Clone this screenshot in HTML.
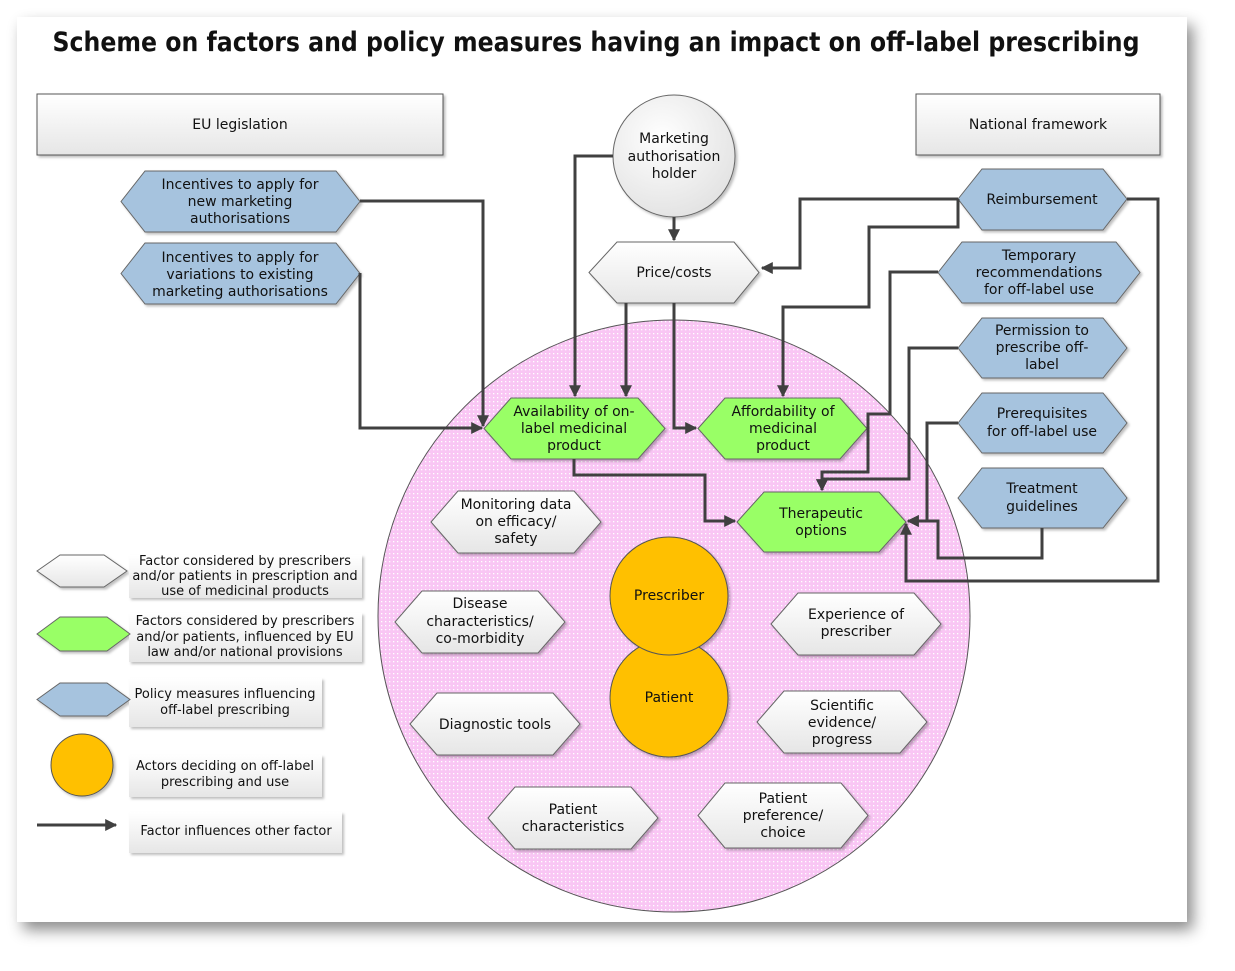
<!DOCTYPE html>
<html><head><meta charset="utf-8"><style>
html,body{margin:0;padding:0;background:#fff;width:1235px;height:971px;overflow:hidden}
.card{position:absolute;left:17px;top:17px;width:1170px;height:905px;background:#fff;box-shadow:6px 8px 14px rgba(0,0,0,0.45)}
svg{position:absolute;left:0;top:0}
text{font-family:"DejaVu Sans","Liberation Sans",sans-serif;font-size:14px;fill:#111;text-anchor:middle}
.lg text{font-size:13px}
</style></head><body>
<div class="card"></div>
<svg width="1235" height="971" viewBox="0 0 1235 971">
<defs>
<pattern id="dots" width="4" height="4" patternUnits="userSpaceOnUse">
<rect width="4" height="4" fill="#f9c6f4"/><rect x="1" y="1" width="1.3" height="1.3" fill="#fff"/>
</pattern>
<linearGradient id="wg" x1="0" y1="0" x2="0" y2="1"><stop offset="0" stop-color="#ffffff"/><stop offset="1" stop-color="#e6e6e6"/></linearGradient>
<radialGradient id="cg" cx="0.4" cy="0.35" r="0.7"><stop offset="0" stop-color="#ffffff"/><stop offset="1" stop-color="#e2e2e2"/></radialGradient>
<marker id="ar" viewBox="0 0 10 10" refX="9" refY="5" markerWidth="4" markerHeight="4" orient="auto"><path d="M0,0 L10,5 L0,10 z" fill="#404040"/></marker>
<filter id="sh" x="-10%" y="-10%" width="130%" height="130%"><feDropShadow dx="2" dy="2" stdDeviation="1.2" flood-color="#000" flood-opacity="0.25"/></filter>
</defs>

<text x="596" y="51" style="font-size:27px;font-weight:bold" textLength="1087" lengthAdjust="spacingAndGlyphs">Scheme on factors and policy measures having an impact on off-label prescribing</text>

<!-- big pink circle -->
<circle cx="674" cy="616" r="296" fill="url(#dots)" stroke="#555" stroke-width="1"/>

<!-- header boxes -->
<rect x="37" y="94" width="406" height="61" fill="url(#wg)" stroke="#555" filter="url(#sh)"/>
<text x="240" y="129">EU legislation</text>
<rect x="916" y="94" width="244" height="61" fill="url(#wg)" stroke="#555" filter="url(#sh)"/>
<text x="1038" y="129">National framework</text>

<g stroke="#666" stroke-width="1" filter="url(#sh)">
<!-- blue hexes -->
<polygon points="121,201.5 145,171 336,171 360,201.5 336,232 145,232" fill="#a6c3de"/>
<polygon points="121,273.5 145,243 336,243 360,273.5 336,304 145,304" fill="#a6c3de"/>
<polygon points="958,199 982,169 1103,169 1127,199 1103,230 982,230" fill="#a6c3de"/>
<polygon points="938,272.5 962,242 1116,242 1140,272.5 1116,303 962,303" fill="#a6c3de"/>
<polygon points="958,348 982,318 1103,318 1127,348 1103,378 982,378" fill="#a6c3de"/>
<polygon points="958,423 982,393 1103,393 1127,423 1103,453 982,453" fill="#a6c3de"/>
<polygon points="958,498 982,468 1103,468 1127,498 1103,528 982,528" fill="#a6c3de"/>
<!-- white hexes -->
<polygon points="589,272.5 617,242 734,242 759,272.5 734,303 617,303" fill="url(#wg)"/>
<polygon points="431,522 458,491 574,491 601,522 574,553 458,553" fill="url(#wg)"/>
<polygon points="395,622 422,591 538,591 565,622 538,653 422,653" fill="url(#wg)"/>
<polygon points="410,724 437,693 553,693 580,724 553,755 437,755" fill="url(#wg)"/>
<polygon points="488,818 515,787 631,787 658,818 631,849 515,849" fill="url(#wg)"/>
<polygon points="698,815.5 725,783 841,783 868,815.5 841,848 725,848" fill="url(#wg)"/>
<polygon points="757,722 784,691 900,691 927,722 900,753 784,753" fill="url(#wg)"/>
<polygon points="771,624 798,593 914,593 941,624 914,655 798,655" fill="url(#wg)"/>
<!-- green hexes -->
<polygon points="484,428.5 511,398 638,398 665,428.5 638,459 511,459" fill="#99ff66"/>
<polygon points="698,428.5 725,398 840,398 867,428.5 840,459 725,459" fill="#99ff66"/>
<polygon points="737,522 764,492 879,492 906,522 879,552 764,552" fill="#99ff66"/>
<!-- circles -->
<circle cx="674" cy="156" r="61" fill="url(#cg)"/>
<circle cx="669" cy="698" r="59" fill="#ffc000" stroke="#555"/>
<circle cx="669" cy="596" r="59" fill="#ffc000" stroke="#555"/>
</g>

<!-- connectors -->
<g fill="none" stroke="#404040" stroke-width="3" marker-end="url(#ar)">
<path d="M360,201 H483 V426"/>
<path d="M360,273 V428 H482"/>
<path d="M613,156 H575 V396"/>
<path d="M674,217 V240"/>
<path d="M626,303 V396"/>
<path d="M674,303 V428 H696"/>
<path d="M574,459 V475 H705 V521 H735"/>
<path d="M958,199 H800 V268 H762"/>
<path d="M958,199 V227 H869 V307 H783 V396"/>
<path d="M938,272 H890 V414 H868 V472 H822 V490"/>
<path d="M958,348 H909 V479 H822 V490"/>
<path d="M958,423 H927 V521 H908"/>
<path d="M1042,528 V558 H938 V521 H908"/>
<path d="M1127,199 H1158 V581 H906 V524"/>
</g>

<!-- labels -->
<text x="240" y="189">Incentives to apply for</text>
<text x="240" y="206">new marketing</text>
<text x="240" y="223">authorisations</text>
<text x="240" y="262">Incentives to apply for</text>
<text x="240" y="279">variations to existing</text>
<text x="240" y="296">marketing authorisations</text>
<text x="674" y="143">Marketing</text>
<text x="674" y="161">authorisation</text>
<text x="674" y="178">holder</text>
<text x="674" y="277">Price/costs</text>
<text x="1042" y="204">Reimbursement</text>
<text x="1039" y="260">Temporary</text>
<text x="1039" y="277">recommendations</text>
<text x="1039" y="294">for off-label use</text>
<text x="1042" y="335">Permission to</text>
<text x="1042" y="352">prescribe off-</text>
<text x="1042" y="369">label</text>
<text x="1042" y="418">Prerequisites</text>
<text x="1042" y="436">for off-label use</text>
<text x="1042" y="493">Treatment</text>
<text x="1042" y="511">guidelines</text>
<text x="574" y="416">Availability of on-</text>
<text x="574" y="433">label medicinal</text>
<text x="574" y="450">product</text>
<text x="783" y="416">Affordability of</text>
<text x="783" y="433">medicinal</text>
<text x="783" y="450">product</text>
<text x="821" y="518">Therapeutic</text>
<text x="821" y="535">options</text>
<text x="516" y="509">Monitoring data</text>
<text x="516" y="526">on efficacy/</text>
<text x="516" y="543">safety</text>
<text x="480" y="608">Disease</text>
<text x="480" y="626">characteristics/</text>
<text x="480" y="643">co-morbidity</text>
<text x="495" y="729">Diagnostic tools</text>
<text x="573" y="814">Patient</text>
<text x="573" y="831">characteristics</text>
<text x="783" y="803">Patient</text>
<text x="783" y="820">preference/</text>
<text x="783" y="837">choice</text>
<text x="842" y="710">Scientific</text>
<text x="842" y="727">evidence/</text>
<text x="842" y="744">progress</text>
<text x="856" y="619">Experience of</text>
<text x="856" y="636">prescriber</text>
<text x="669" y="600">Prescriber</text>
<text x="669" y="702">Patient</text>

<!-- legend -->
<g class="lg">
<g stroke="#666" filter="url(#sh)">
<rect x="129" y="555" width="233" height="43" fill="url(#wg)" stroke="none"/>
<rect x="129" y="613" width="233" height="49" fill="url(#wg)" stroke="none"/>
<rect x="129" y="678" width="193" height="49" fill="url(#wg)" stroke="none"/>
<rect x="129" y="755" width="193" height="42" fill="url(#wg)" stroke="none"/>
<rect x="129" y="812" width="213" height="41" fill="url(#wg)" stroke="none"/>
<polygon points="37,571 60,555 104,555 127,571 104,587 60,587" fill="url(#wg)"/>
<polygon points="37,634 60,617 107,617 130,634 107,651 60,651" fill="#99ff66"/>
<polygon points="37,699.5 60,683 107,683 130,699.5 107,716 60,716" fill="#a6c3de"/>
<circle cx="82" cy="765" r="31" fill="#ffc000" stroke="#555"/>
</g>
<path d="M37,825 H116" stroke="#404040" stroke-width="3" marker-end="url(#ar)" fill="none"/>
<text x="245" y="565">Factor considered by prescribers</text>
<text x="245" y="580">and/or patients in prescription and</text>
<text x="245" y="595">use of medicinal products</text>
<text x="245" y="625">Factors considered by prescribers</text>
<text x="245" y="641">and/or patients, influenced by EU</text>
<text x="245" y="656">law and/or national provisions</text>
<text x="225" y="698">Policy measures influencing</text>
<text x="225" y="714">off-label prescribing</text>
<text x="225" y="770">Actors deciding on off-label</text>
<text x="225" y="786">prescribing and use</text>
<text x="236" y="835">Factor influences other factor</text>
</g>
</svg>
</body></html>
